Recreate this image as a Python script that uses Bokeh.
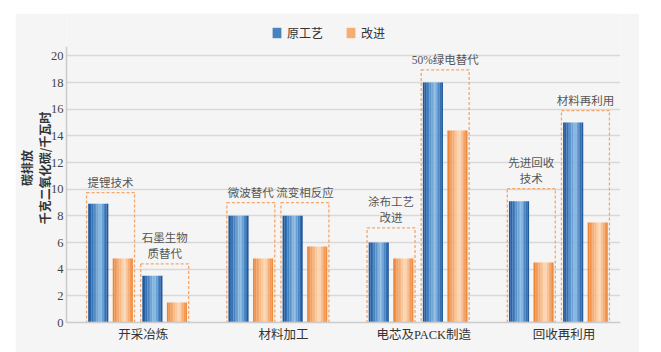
from bokeh.plotting import figure
from bokeh.models import (ColumnDataSource, Range1d, FixedTicker, Legend, LegendItem,
                          CustomJSTickFormatter)
from bokeh.core.properties import value
from bokeh.embed import file_html
from bokeh.resources import INLINE

# ---- data ----
groups = ["开采冶炼", "材料加工", "电芯及PACK制造", "回收再利用"]
measures = ["提锂技术", "石墨生物\n质替代", "微波替代", "流变相反应",
            "涂布工艺\n改进", "50%绿电替代", "先进回收\n技术", "材料再利用"]
measure_group = [0, 0, 1, 1, 2, 2, 3, 3]
measure_side = [0, 1, 0, 1, 0, 1, 0, 1]
original = [8.9, 3.5, 8.0, 8.0, 6.0, 18.0, 9.1, 15.0]
improved = [4.8, 1.5, 4.8, 5.7, 4.8, 14.4, 4.5, 7.5]
box_top = [9.75, 4.4, 9.0, 9.0, 7.1, 18.95, 10.05, 15.9]
y_ticks = [0, 2, 4, 6, 8, 10, 12, 14, 16, 18, 20]
series_names = ["原工艺", "改进"]

# ---- layout constants (style) ----
PAIR_OFF = 0.193
BAR_OFF = 0.0875
BAR_W = 0.143
BOX_HALF = 0.171
N_STRIPS = 12
Y_TOP = 23.18      # frame reaches the panel top so the legend can sit above the axis
AXIS_TOP = 20.7

CJK = "'Liberation Serif', 'Noto Sans CJK SC'"
SANS = "'Noto Sans CJK SC'"
SERIF = "'Liberation Serif', serif"

def hex2rgb(h):
    h = h.lstrip("#")
    return tuple(int(h[i:i + 2], 16) for i in (0, 2, 4))

def grad(stops, t):
    for (t0, c0), (t1, c1) in zip(stops[:-1], stops[1:]):
        if t0 <= t <= t1:
            a = (t - t0) / (t1 - t0) if t1 > t0 else 0
            r0, r1 = hex2rgb(c0), hex2rgb(c1)
            return "#%02x%02x%02x" % tuple(int(round(r0[k] + (r1[k] - r0[k]) * a)) for k in range(3))
    return stops[-1][1]

blue_stops = [(0, "#1a4f90"), (0.15, "#2a67ac"), (0.6, "#8cbfe9"), (0.85, "#3a77b9"), (1, "#1b4f8f")]
orange_stops = [(0, "#eb7e2c"), (0.15, "#f19852"), (0.6, "#fddcbc"), (0.85, "#f3a060"), (1, "#ec8433")]

pair_center = [g + (-PAIR_OFF if s == 0 else PAIR_OFF) for g, s in zip(measure_group, measure_side)]

p = figure(width=624, height=339, output_backend="svg", toolbar_location=None,
           x_range=Range1d(-0.507, 3.443), y_range=Range1d(0, Y_TOP),
           min_border_left=40, min_border_right=19, min_border_top=0, min_border_bottom=30)
p.margin = (13, 22, 0, 15)
p.background_fill_color = "#f5f5f5"
p.border_fill_color = "#f5f5f5"
p.outline_line_color = None

# grid
p.xgrid.grid_line_color = None
p.ygrid.grid_line_color = "#d9d9d9"
p.ygrid.grid_line_width = 1.5
p.yaxis.ticker = FixedTicker(ticks=y_ticks)
p.yaxis.bounds = (0, AXIS_TOP)

# bars with gradient strips
strip_w = BAR_W / N_STRIPS
legend_renderers = []
for si, (vals, stops, off) in enumerate([(original, blue_stops, -BAR_OFF), (improved, orange_stops, BAR_OFF)]):
    mid_r = None
    for k in range(N_STRIPS):
        t = (k + 0.5) / N_STRIPS
        xs = [c + off - BAR_W / 2 + (k + 0.5) * strip_w for c in pair_center]
        src = ColumnDataSource(dict(x=xs, top=vals))
        r = p.vbar(x="x", top="top", bottom=0, width=strip_w * 1.05, source=src,
                   fill_color=grad(stops, t), line_color=None)
        if k == 3:
            mid_r = r
    legend_renderers.append(mid_r)

# dashed boxes
box_src = ColumnDataSource(dict(left=[c - BOX_HALF for c in pair_center],
                                right=[c + BOX_HALF for c in pair_center],
                                top=box_top, bottom=[0] * len(box_top)))
p.quad(left="left", right="right", top="top", bottom="bottom", source=box_src,
       fill_alpha=0, line_color="#f5a66b", line_dash="3 2", line_width=1.3)

# measure labels
txt_src = ColumnDataSource(dict(x=pair_center, y=box_top, text=measures))
p.text(x="x", y="y", text="text", source=txt_src, text_align="center", text_baseline="bottom",
       y_offset=-4, text_font=value(CJK), text_font_size="11.5px", text_color="#555555",
       text_line_height=1.3)

# axes
p.yaxis.axis_label = "碳排放\n千克二氧化碳/千瓦时"
p.yaxis.axis_label_text_font = SANS
p.yaxis.axis_label_text_font_size = "12px"
p.yaxis.axis_label_text_font_style = "bold"
p.yaxis.axis_label_text_color = "#333333"
p.yaxis.axis_label_standoff = -5
p.yaxis.axis_label_text_line_height = 1.05
p.yaxis.major_label_text_font = SERIF
p.yaxis.major_label_text_font_size = "12.5px"
p.yaxis.major_label_text_color = "#444444"
p.yaxis.major_label_standoff = 3
p.yaxis.major_tick_line_color = None
p.yaxis.major_tick_out = 0
p.yaxis.major_tick_in = 0
p.yaxis.minor_tick_line_color = None
p.yaxis.minor_tick_out = 0
p.yaxis.axis_line_color = "#cccccc"
p.yaxis.axis_line_width = 1.5

p.xaxis.ticker = FixedTicker(ticks=[i + 0.04 for i in range(len(groups))])
p.xaxis.formatter = CustomJSTickFormatter(args=dict(names=groups), code="return names[index];")
p.xaxis.major_label_text_font = CJK
p.xaxis.major_label_text_font_size = "12.5px"
p.xaxis.major_label_text_color = "#333333"
p.xaxis.major_label_standoff = 5
p.xaxis.major_tick_line_color = None
p.xaxis.major_tick_out = 0
p.xaxis.major_tick_in = 0
p.xaxis.minor_tick_line_color = None
p.xaxis.minor_tick_out = 0
p.xaxis.axis_line_color = "#cccccc"
p.xaxis.axis_line_width = 1.5

# legend (inside the frame, above the axis top)
legend = Legend(items=[LegendItem(label=series_names[i], renderers=[legend_renderers[i]]) for i in range(2)],
                orientation="horizontal", location=(205, 281), glyph_width=11, glyph_height=13,
                label_text_font=SANS, label_text_font_size="12px", label_text_color="#333333",
                spacing=22, padding=0, margin=0, label_standoff=5,
                background_fill_alpha=0, border_line_color=None)
p.add_layout(legend)

open("out.html", "w").write(file_html(p, INLINE))
